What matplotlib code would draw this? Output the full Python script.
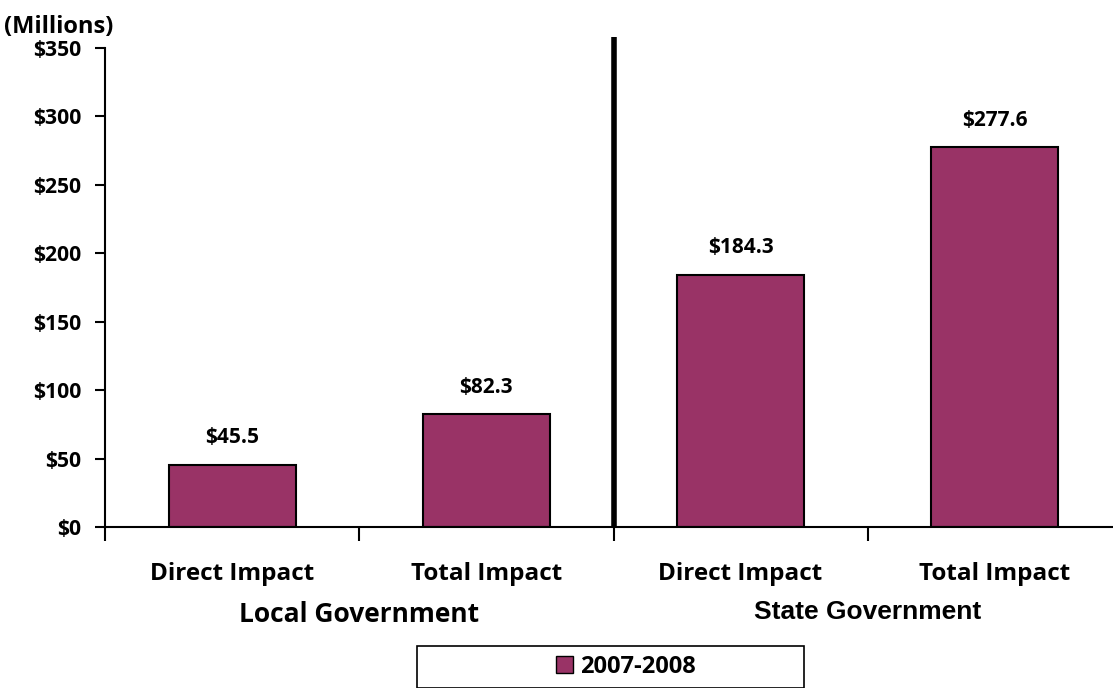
import matplotlib.pyplot as plt
from matplotlib.patches import Rectangle, Patch

categories = ["Direct Impact", "Total Impact", "Direct Impact", "Total Impact"]
groups = ["Local Government", "State Government"]
values = [45.5, 82.3, 184.3, 277.6]
series_name = "2007-2008"
yticks = [0, 50, 100, 150, 200, 250, 300, 350]

bar_color = "#993366"
font = ["Open Sans", "DejaVu Sans"]

fig = plt.figure(figsize=(11.13, 6.88), dpi=100)
ax = fig.add_axes([105 / 1113, 1 - 527 / 688, 1017 / 1113, 479 / 688])

x = list(range(len(categories)))
ax.bar(x, values, width=0.5, color=bar_color, edgecolor="black", linewidth=1.5)

for xi, v in zip(x, values):
    ax.text(xi, v + 12, f"${v:.1f}", ha="center", va="bottom",
            fontsize=15, fontweight="bold", family=font)

ax.set_xlim(-0.5, 3.5)
ax.set_ylim(0, 350)
ax.set_yticks(yticks)
ax.set_yticklabels([f"${t}" for t in yticks], fontsize=15.2, fontweight="bold",
                   family=font)
ax.set_xticks([-0.5, 0.5, 1.5, 2.5, 3.5])
ax.set_xticklabels([])
ax.tick_params(axis="both", length=7, width=1.5, direction="out")
ax.tick_params(axis="y", pad=10)
ax.tick_params(axis="x", length=10)

for s in ["top", "right"]:
    ax.spines[s].set_visible(False)
ax.spines["left"].set_linewidth(1.5)
ax.spines["bottom"].set_linewidth(1.5)

# divider between local and state
ax.plot([1.5, 1.5], [0, 358], color="black", linewidth=4, clip_on=False,
        solid_capstyle="butt")

for xi, c in zip(x, categories):
    ax.text(xi, -34, c, ha="center", va="center", fontsize=17.5,
            fontweight="bold", family=font)

ax.text(0.5, -64, groups[0], ha="center", va="center", fontsize=19,
        fontweight="bold", family=font)
ax.text(2.5, -62, groups[1], ha="center", va="center", fontsize=19,
        fontweight="bold", family=["Liberation Sans", "DejaVu Sans"])

fig.text(4 / 1113, 1 - 27 / 688, "(Millions)", ha="left", va="center",
         fontsize=17, fontweight="bold", family=font)

# legend box
fig.patches.append(Rectangle((417 / 1113, 0), 387 / 1113, 42 / 688,
                             transform=fig.transFigure, fill=False,
                             edgecolor="black", linewidth=1.2))
leg = fig.legend(handles=[Patch(facecolor=bar_color, edgecolor="black",
                                label=series_name)],
                 loc="center", bbox_to_anchor=(626 / 1113, 1 - 667 / 688),
                 frameon=False, handlelength=0.75, handleheight=0.75,
                 handletextpad=0.3,
                 prop={"family": font, "weight": "bold", "size": 17})

fig.savefig("out.png", dpi=100)
